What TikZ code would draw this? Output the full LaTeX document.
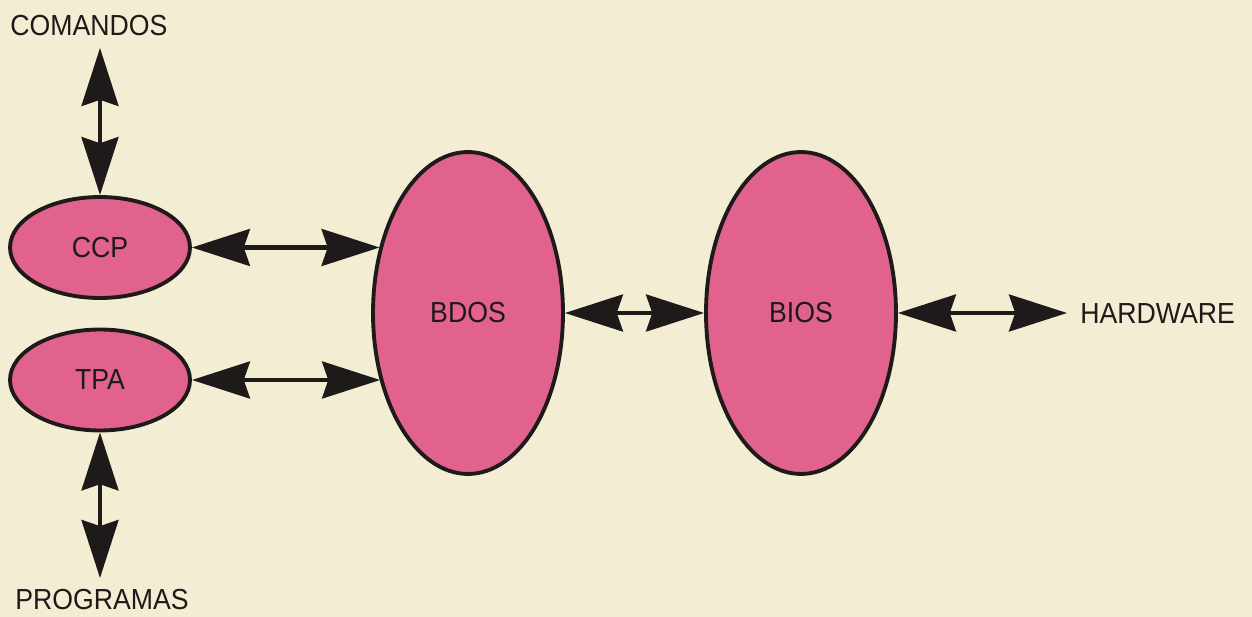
\documentclass[tikz,border=0pt]{standalone}
\usepackage{fontspec}
\setmainfont{Liberation Sans}[FakeStretch=0.92]
\usetikzlibrary{shapes.geometric,arrows.meta}
\definecolor{bg}{RGB}{243,237,212}
\definecolor{pinkfill}{RGB}{226,98,142}
\definecolor{ink}{RGB}{30,26,26}
\tikzset{
  blob/.style={ellipse, draw=ink, line width=2.2pt, fill=pinkfill, inner sep=0pt,
    text=ink, font=\fontsize{16.5}{18}\selectfont},
  lbl/.style={text=ink, inner sep=0pt, font=\fontsize{16.5}{18}\selectfont},
  dbl/.style={draw=ink, line width=2.3pt,
    {Stealth[length=33pt,width=21pt,inset=3.5pt]}-{Stealth[length=33pt,width=21pt,inset=3.5pt]}}
}
\begin{document}
\begin{tikzpicture}[x=0.02cm,y=-0.02cm]
\fill[bg] (0,0) rectangle (1252,617);
\useasboundingbox (0,0) rectangle (1252,617);
\node[blob, minimum width=3.6cm, minimum height=2.02cm] (ccp) at (100,247.5) {CCP};
\node[blob, minimum width=3.6cm, minimum height=2.02cm] (tpa) at (100,380) {TPA};
\node[blob, minimum width=3.8cm, minimum height=6.44cm] (bdos) at (468,313) {BDOS};
\node[blob, minimum width=3.8cm, minimum height=6.44cm] (bios) at (801,313) {BIOS};
\node[lbl] (com) at (89,26) {COMANDOS};
\node[lbl] (prog) at (102,600) {PROGRAMAS};
\node[lbl, anchor=west] (hw) at (1080,314) {HARDWARE};
\coordinate (comtip) at (100,48);
\coordinate (progtip) at (100,578);
\coordinate (hwtip) at (1067,313);
\draw[dbl] (comtip) -- (ccp.north);
\draw[dbl] (tpa.south) -- (progtip);
\draw[dbl] (ccp.east) -- (ccp.east -| bdos.143);
\draw[dbl] (tpa.east) -- (tpa.east -| bdos.218);
\draw[dbl] (bdos.east) -- (bios.west);
\draw[dbl] (bios.east) -- (hwtip);
\end{tikzpicture}
\end{document}
